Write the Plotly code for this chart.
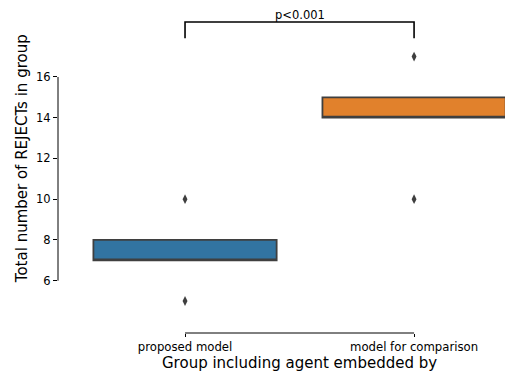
import plotly.graph_objects as go

# Group labels and per-group box statistics
groups = ["proposed model", "model for comparison"]
q1 = [7, 14]
median = [7, 14]
q3 = [8, 15]
lower_whisker = [7, 14]
upper_whisker = [8, 15]
box_colors = ["#3274a1", "#e1812c"]

# Outlying observations per group
outliers_0 = [10, 5]
outliers_1 = [17, 10]

# Significance bracket
bracket_low = 17.9
bracket_high = 18.7
p_label = "p<0.001"

y_ticks = [6, 8, 10, 12, 14, 16]

EDGE = "#3f3f3f"
FONT = "DejaVu Sans"

fig = go.Figure()

for i, name in enumerate(groups):
    fig.add_trace(go.Box(
        x=[i], q1=[q1[i]], median=[median[i]], q3=[q3[i]],
        lowerfence=[lower_whisker[i]], upperfence=[upper_whisker[i]],
        width=0.8, whiskerwidth=0,
        fillcolor=box_colors[i],
        line=dict(color=EDGE, width=1.8),
        name=name, showlegend=False, hoverinfo="skip",
    ))

for i, pts in enumerate([outliers_0, outliers_1]):
    fig.add_trace(go.Scatter(
        x=[i] * len(pts), y=pts, mode="markers",
        marker=dict(symbol="diamond-tall", size=7, color=EDGE),
        showlegend=False, hoverinfo="skip",
    ))

# trimmed spines
fig.add_shape(type="line", xref="paper", yref="y", x0=0, x1=0,
              y0=min(y_ticks), y1=max(y_ticks), line=dict(color="black", width=1))
fig.add_shape(type="line", xref="x", yref="paper", x0=0, x1=len(groups) - 1,
              y0=0, y1=0, line=dict(color="black", width=1))

# significance bracket
fig.add_shape(type="path", xref="x", yref="y",
              path=f"M 0 {bracket_low} L 0 {bracket_high} L 1 {bracket_high} L 1 {bracket_low}",
              line=dict(color="black", width=1.6))
fig.add_annotation(x=0.5, y=bracket_high, xref="x", yref="y", text=p_label,
                   showarrow=False, yanchor="bottom", yshift=-2,
                   font=dict(family=FONT, size=11.5, color="black"))

# axis titles
fig.add_annotation(x=0.5, y=0, xref="x", yref="paper",
                   text="Group including agent embedded by", showarrow=False,
                   xanchor="center", yanchor="middle", yshift=-30,
                   font=dict(family=FONT, size=15, color="black"))
fig.add_annotation(x=0, y=0.522, xref="paper", yref="paper",
                   text="Total number of REJECTs in group", showarrow=False,
                   textangle=-90, xanchor="center", yanchor="middle", xshift=-36,
                   font=dict(family=FONT, size=15, color="black"))

fig.update_layout(
    width=505, height=373,
    margin=dict(l=58, r=0, t=0, b=40),
    plot_bgcolor="white", paper_bgcolor="white",
    boxmode="overlay",
    font=dict(family=FONT, size=11.5, color="black"),
    xaxis=dict(range=[-0.5546, 1.397], tickvals=[0, 1], ticktext=groups,
               showgrid=False, zeroline=False, showline=False,
               ticks="outside", ticklen=3, tickcolor="black",
               tickfont=dict(family=FONT, size=11.7, color="black"), fixedrange=True),
    yaxis=dict(range=[3.43, 19.78], tickvals=y_ticks,
               showgrid=False, zeroline=False, showline=False,
               ticks="outside", ticklen=4, tickcolor="black",
               tickfont=dict(family=FONT, size=11.5, color="black"), fixedrange=True),
)

fig.write_html("out.html")
